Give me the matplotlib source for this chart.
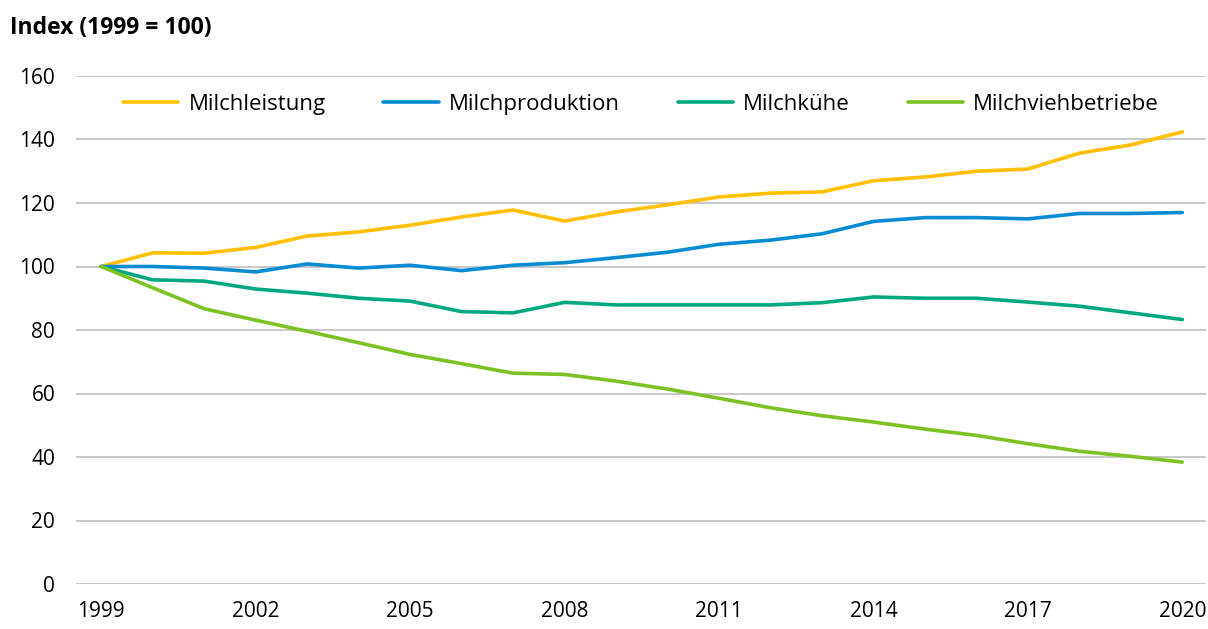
import matplotlib.pyplot as plt

years = list(range(1999, 2021))
milchleistung = [100, 104.3, 104.2, 106.0, 109.6, 110.9, 113.0, 115.6, 117.8, 114.3, 117.2,
                 119.4, 121.9, 123.1, 123.5, 127.0, 128.2, 130.0, 130.7, 135.7, 138.3, 142.4]
milchproduktion = [100, 100.0, 99.5, 98.3, 100.8, 99.5, 100.4, 98.7, 100.4, 101.2, 102.8,
                   104.5, 107.0, 108.3, 110.3, 114.2, 115.4, 115.4, 115.0, 116.7, 116.7, 117.0]
milchkuehe = [100, 95.8, 95.4, 92.9, 91.6, 90.0, 89.1, 85.8, 85.4, 88.7, 87.9,
              87.9, 87.9, 87.9, 88.6, 90.4, 90.0, 90.0, 88.8, 87.5, 85.4, 83.3]
milchviehbetriebe = [100, 93.3, 86.7, 83.1, 79.6, 76.0, 72.3, 69.4, 66.4, 66.0, 63.9,
                     61.4, 58.5, 55.5, 53.0, 51.0, 48.8, 46.8, 44.2, 41.8, 40.2, 38.4]

labels = ['Milchleistung', 'Milchproduktion', 'Milchkühe', 'Milchviehbetriebe']
colors = ['#FFC000', '#0A8CD2', '#00A880', '#7CC225']
xticks = [1999, 2002, 2005, 2008, 2011, 2014, 2017, 2020]

plt.rcParams['font.family'] = ['Open Sans', 'DejaVu Sans']

fig = plt.figure(figsize=(12.08, 6.29), dpi=100)
ax = fig.add_axes([76 / 1208, 1 - 584 / 629, (1206 - 76) / 1208, (584 - 76) / 629])

for vals, lab, col in zip([milchleistung, milchproduktion, milchkuehe, milchviehbetriebe], labels, colors):
    ax.plot(years, vals, color=col, lw=2.6, label=lab, solid_joinstyle='round', solid_capstyle='round')

ax.set_ylim(0, 160)
ax.set_yticks(range(0, 161, 20))
ax.set_xlim(1998.51, 2020.46)
ax.set_xticks(xticks)
ax.grid(axis='y', color='#BFBFBF', lw=1.2)
ax.set_axisbelow(True)
for s in ax.spines.values():
    s.set_visible(False)
ax.tick_params(length=0, labelsize=15, colors='black')
ax.tick_params(axis='y', pad=15)
ax.tick_params(axis='x', pad=12)

ax.legend(loc='upper center', bbox_to_anchor=(0.5, 0.995), ncol=4, frameon=False, fontsize=16,
          handlelength=2.5, handletextpad=0.45, columnspacing=2.6, borderaxespad=0.3)

fig.text(10 / 1208, 1 - 28 / 629, 'Index (1999 = 100)', fontsize=16.5, fontweight='bold', va='center', ha='left')

fig.savefig('out.png', dpi=100)
